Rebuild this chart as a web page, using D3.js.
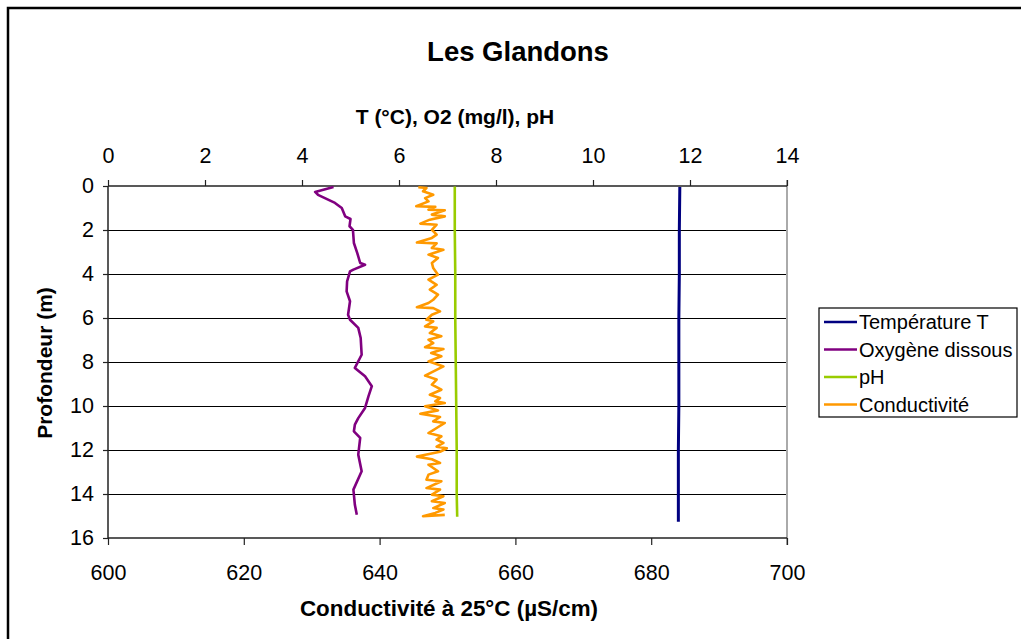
<!DOCTYPE html>
<meta charset="utf-8">
<title>Les Glandons</title>
<style>
body { margin:0; background:#fff; }
svg text { font-family: "Liberation Sans", Arial, sans-serif; fill:#000; }
.axis-title { font-size:21px; font-weight:bold; text-anchor:middle; }
</style>
<svg width="1021" height="639"></svg>
<script src="https://d3js.org/d3.v7.min.js"></script>
<script>
// depth (m) and values
var tempDepth = [0.05, 2, 4, 6, 8, 10, 12, 14, 15.26];
var tempValue = [11.79, 11.78, 11.78, 11.77, 11.77, 11.77, 11.76, 11.76, 11.76];

var o2Depth = [0.05, 0.27, 0.40, 0.77, 1.0, 1.38, 1.5, 1.83, 1.99, 2.59, 3.05, 3.5, 3.58, 3.80, 3.88, 4.33, 4.79,
               5.24, 5.85, 6.08, 6.45, 6.91, 7.67, 8.27, 8.65, 9.10, 9.56, 10.09, 10.55, 10.85, 11.15, 11.45,
               12.21, 12.97, 13.80, 14.49, 14.94];
var o2Value = [4.65, 4.27, 4.33, 4.68, 4.82, 4.89, 5.00, 4.98, 5.05, 5.07, 5.14, 5.20, 5.30, 5.06, 4.99, 4.93, 4.92,
               4.99, 4.95, 4.99, 5.16, 5.21, 5.23, 5.09, 5.30, 5.44, 5.37, 5.30, 5.16, 5.09, 5.07, 5.20,
               5.16, 5.23, 5.06, 5.09, 5.13];

var phDepth = [0.02, 2, 4, 6, 8, 10, 12, 14, 15.03];
var phValue = [7.15, 7.15, 7.16, 7.16, 7.17, 7.18, 7.19, 7.19, 7.20];

var condDepth = [0.06, 0.09, 0.24, 0.40, 0.55, 0.70, 0.92, 0.95, 1.08, 1.10, 1.30, 1.38, 1.53, 1.71, 1.76, 1.99,
                 2.21, 2.36, 2.57, 2.61, 2.82, 2.90, 3.12, 3.27, 3.50, 3.73, 4.03, 4.26, 4.49, 4.71, 4.94, 5.17,
                 5.32, 5.51, 5.55, 5.70, 5.85, 6.08, 6.15, 6.38, 6.45, 6.68, 6.83, 6.99, 7.14, 7.33, 7.41, 7.59,
                 7.74, 7.97, 8.20, 8.62, 8.80, 9.03, 9.26, 9.49, 9.64, 9.79, 9.86, 10.01, 10.20, 10.35, 10.50,
                 10.70, 10.77, 11.00, 11.23, 11.38, 11.53, 11.68, 11.85, 11.92, 12.08, 12.30, 12.42, 12.59, 12.67,
                 12.82, 12.97, 13.12, 13.35, 13.42, 13.73, 13.80, 14.03, 14.10, 14.33, 14.41, 14.64, 14.71, 14.86,
                 15.01, 14.95];
var condValue = [645.7, 646.9, 646.4, 647.9, 646.7, 647.2, 645.4, 648.2, 647.2, 649.6, 647.7, 649.6, 647.4, 646.0, 648.4, 647.7,
                 648.4, 647.7, 645.5, 648.4, 647.7, 649.4, 647.2, 648.6, 647.7, 647.9, 648.6, 647.2, 648.4, 647.4, 648.6, 647.9,
                 647.2, 645.5, 647.9, 648.9, 647.7, 646.9, 647.9, 646.7, 648.4, 647.4, 649.1, 647.2, 647.9, 646.7, 649.4, 647.6,
                 649.1, 647.2, 649.4, 646.7, 648.4, 647.7, 649.1, 647.4, 648.9, 648.2, 649.6, 646.7, 648.6, 646.0, 648.9,
                 647.9, 649.6, 648.4, 647.2, 649.1, 648.4, 649.4, 648.4, 649.9, 648.9, 645.5, 647.7, 648.9, 647.2,
                 647.9, 648.6, 647.2, 646.9, 649.1, 646.9, 648.9, 647.7, 649.4, 647.7, 649.6, 647.9, 649.4, 648.2,
                 646.4, 649.6];

var topTicks = [0, 2, 4, 6, 8, 10, 12, 14];
var bottomTicks = [600, 620, 640, 660, 680, 700];
var depthTicks = [0, 2, 4, 6, 8, 10, 12, 14, 16];

var seriesNames = ["Température T", "Oxygène dissous", "pH", "Conductivité"];
var seriesColors = ["#000080", "#800080", "#99cc00", "#ff9900"];

var svg = d3.select("svg");

var xTop = d3.scaleLinear().domain([0, 14]).range([108, 787]);
var xBot = d3.scaleLinear().domain([600, 700]).range([108, 787]);
var y = d3.scaleLinear().domain([0, 16]).range([186, 538]);

// outer frame (only top and left edges visible)
svg.append("path")
   .attr("d", "M8,639 L8,8 L1021,8")
   .style("fill", "none").style("stroke", "#000").style("stroke-width", 2.5);

// horizontal gridlines
svg.append("g").selectAll("line")
   .data(depthTicks.slice(1, -1))
   .enter().append("line")
   .attr("x1", 108).attr("x2", 787)
   .attr("y1", function(d) { return y(d) + 0.5; }).attr("y2", function(d) { return y(d) + 0.5; })
   .style("stroke", "#000").style("stroke-width", 1)
   .style("shape-rendering", "crispEdges");

// right edge of plot
svg.append("line")
   .attr("x1", 787).attr("x2", 787).attr("y1", 180).attr("y2", 545)
   .style("stroke", "#aaa").style("stroke-width", 2);

// axes
var gTop = svg.append("g").attr("transform", "translate(0," + y(0) + ")")
   .call(d3.axisTop(xTop).tickValues(topTicks).tickSize(6).tickPadding(17));
var gBot = svg.append("g").attr("transform", "translate(0," + y(16) + ")")
   .call(d3.axisBottom(xBot).tickValues(bottomTicks).tickSize(7).tickPadding(20));
var gLeft = svg.append("g").attr("transform", "translate(108,0)")
   .call(d3.axisLeft(y).tickValues(depthTicks).tickSize(5).tickPadding(9));
[gTop, gBot, gLeft].forEach(function(g) {
  g.selectAll("path.domain").style("stroke", "#222").style("stroke-width", 1.5);
  g.selectAll(".tick line").style("stroke", "#222").style("stroke-width", 1.2);
  g.selectAll(".tick text").style("font-family", "Liberation Sans, Arial, sans-serif").style("font-size", "21.5px");
});
gTop.select("path.domain").attr("d", "M108,0H787");
gBot.select("path.domain").attr("d", "M108,0H787");
gLeft.select("path.domain").attr("d", "M0,186V538");

// titles
svg.append("text").attr("x", 518).attr("y", 61)
   .style("font-size", "27.5px").style("font-weight", "bold").style("text-anchor", "middle")
   .text("Les Glandons");
svg.append("text").attr("class", "axis-title").attr("x", 455).attr("y", 124)
   .text("T (°C), O2 (mg/l), pH");
svg.append("text").attr("class", "axis-title").attr("x", 449).attr("y", 616)
   .style("font-size", "22.4px")
   .text("Conductivité à 25°C (µS/cm)");
svg.append("text").attr("class", "axis-title")
   .attr("transform", "translate(52,363) rotate(-90)")
   .text("Profondeur (m)");

// series
var lineTop = d3.line().x(function(d) { return xTop(d[1]); }).y(function(d) { return y(d[0]); });
var lineBot = d3.line().x(function(d) { return xBot(d[1]); }).y(function(d) { return y(d[0]); });

function pairs(a, b) { return a.map(function(d, i) { return [d, b[i]]; }); }

var series = [
  { pts: pairs(tempDepth, tempValue), line: lineTop, w: 3 },
  { pts: pairs(o2Depth, o2Value), line: lineTop, w: 2.6 },
  { pts: pairs(phDepth, phValue), line: lineTop, w: 2.6 },
  { pts: pairs(condDepth, condValue), line: lineBot, w: 2.6 }
];
series.forEach(function(s, i) {
  svg.append("path")
     .attr("d", s.line(s.pts))
     .style("fill", "none")
     .style("stroke", seriesColors[i])
     .style("stroke-width", s.w)
     .style("stroke-linejoin", "round");
});

// legend
var leg = svg.append("g").attr("transform", "translate(819,308)");
leg.append("rect").attr("width", 198).attr("height", 109)
   .style("fill", "#fff").style("stroke", "#000").style("stroke-width", 1.2);
var item = leg.selectAll(".item").data(seriesNames).enter().append("g")
   .attr("transform", function(d, i) { return "translate(0," + (14 + i * 27.5) + ")"; });
item.append("line").attr("x1", 5).attr("x2", 38).attr("y1", 0).attr("y2", 0)
   .style("stroke", function(d, i) { return seriesColors[i]; }).style("stroke-width", 2.6);
item.append("text").attr("x", 40).attr("dy", "0.36em")
   .style("font-size", "20px")
   .text(function(d) { return d; });
</script>
